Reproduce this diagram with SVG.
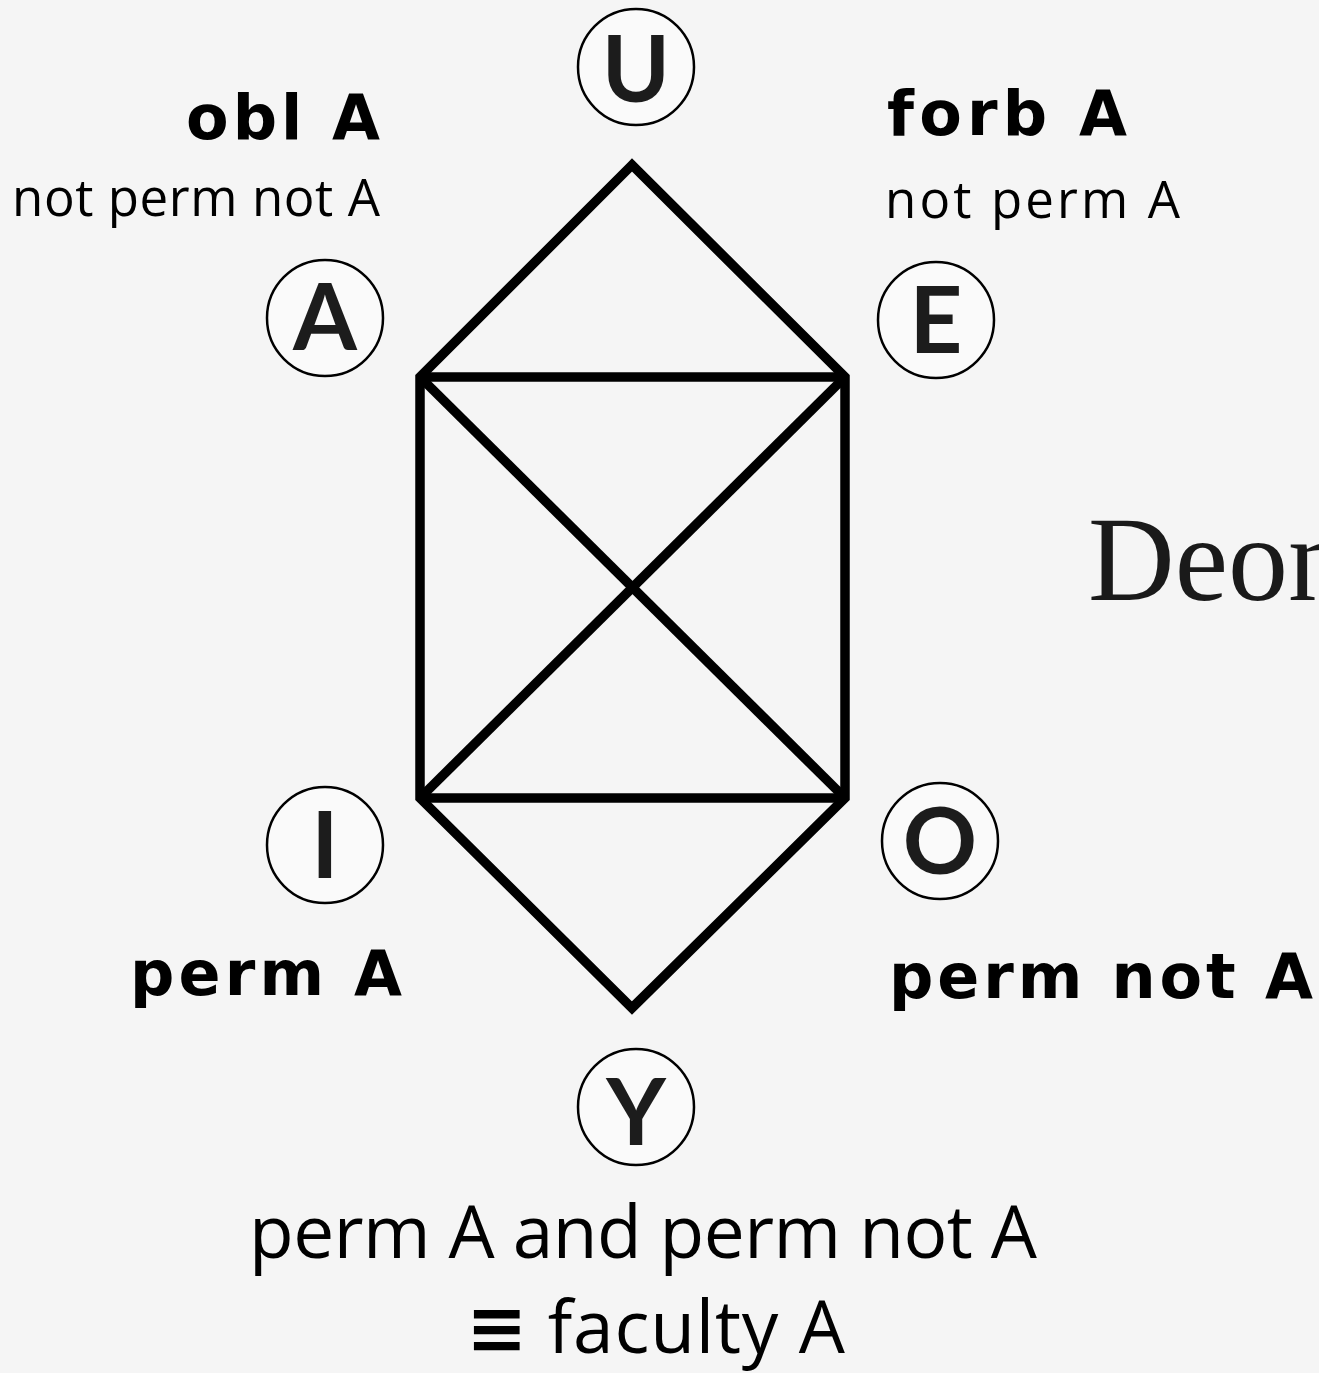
<svg xmlns="http://www.w3.org/2000/svg" width="1319" height="1373" viewBox="0 0 1319 1373">
<style>
.node circle{fill:#fafafa;stroke:#000;stroke-width:2.5}
.node text{font-family:Lato,"Open Sans",sans-serif;font-weight:bold;font-size:92px;fill:#1c1c1c;text-anchor:middle}
.b{font-family:"DejaVu Sans",Lato,sans-serif;font-weight:bold;font-size:62px;fill:#000}
.r{font-family:"Open Sans",Lato,sans-serif;font-size:51px;fill:#000}
.big{font-family:"Open Sans",Lato,sans-serif;font-size:73px;fill:#000}
#edges line,#edges polygon{stroke:#000;stroke-width:9.5;fill:none;stroke-linejoin:miter;stroke-linecap:butt}
</style>
<rect width="1319" height="1373" fill="#f5f5f5"/>
<g id="edges">
<polygon points="632,165 420,377 420,798 632,1008 845,798 845,377"/>
<line x1="420" y1="377" x2="845" y2="377"/>
<line x1="420" y1="798" x2="845" y2="798"/>
<line x1="420" y1="377" x2="845" y2="798"/>
<line x1="845" y1="377" x2="420" y2="798"/>
</g>
<g id="node-U" class="node"><circle cx="636" cy="67" r="58"/><text x="636" y="102">U</text></g>
<g id="node-A" class="node"><circle cx="325" cy="318" r="58"/><text x="325" y="350">A</text></g>
<g id="node-E" class="node"><circle cx="936" cy="320" r="58"/><text x="936" y="353">E</text></g>
<g id="node-I" class="node"><circle cx="325" cy="845" r="58"/><text x="325" y="878">I</text></g>
<g id="node-O" class="node"><circle cx="940" cy="841" r="58"/><text x="940" y="874">O</text></g>
<g id="node-Y" class="node"><circle cx="636" cy="1107" r="58"/><text x="636" y="1145">Y</text></g>
<text class="b" x="186" y="139" textLength="194" lengthAdjust="spacing">obl A</text>
<text class="r" x="12" y="216" textLength="368" lengthAdjust="spacing">not perm not A</text>
<text class="b" x="887" y="135" textLength="240" lengthAdjust="spacing">forb A</text>
<text class="r" x="885" y="218" textLength="295" lengthAdjust="spacing">not perm A</text>
<text class="b" x="130" y="995" textLength="272" lengthAdjust="spacing">perm A</text>
<text class="b" x="889" y="998" textLength="424" lengthAdjust="spacing">perm not A</text>
<text class="big" x="249" y="1258" textLength="788" lengthAdjust="spacing">perm A and perm not A</text>
<text class="big" x="466" y="1353" textLength="379" lengthAdjust="spacing"><tspan font-family="'DejaVu Sans',sans-serif" font-weight="bold">≡</tspan> faculty A</text>
<text x="1088" y="600" font-family="'Liberation Serif',serif" font-size="120" fill="#1a1a1a">Deontic</text>
</svg>
